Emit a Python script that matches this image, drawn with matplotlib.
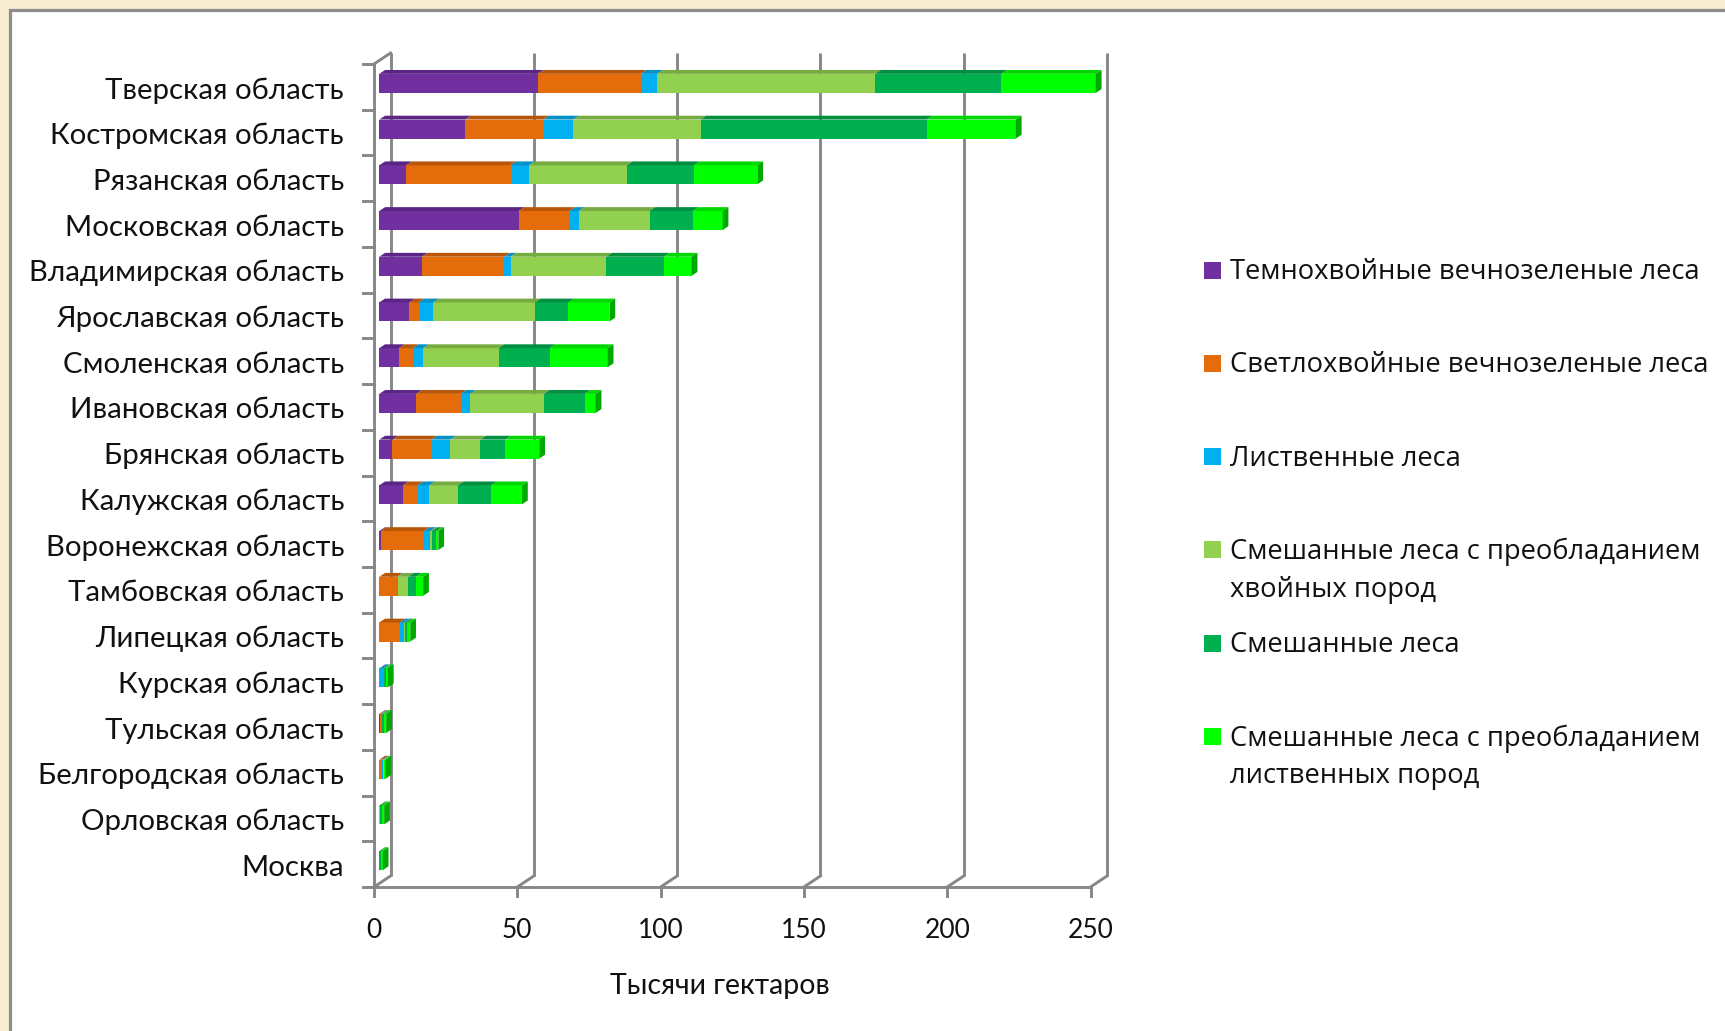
import numpy as np
import matplotlib
matplotlib.use("Agg")
import matplotlib.pyplot as plt
from matplotlib.patches import Polygon, Rectangle
import matplotlib.transforms as mtransforms

# ---- data (thousand hectares) ----
regions = ["Тверская область", "Костромская область", "Рязанская область",
           "Московская область", "Владимирская область", "Ярославская область",
           "Смоленская область", "Ивановская область", "Брянская область",
           "Калужская область", "Воронежская область", "Тамбовская область",
           "Липецкая область", "Курская область", "Тульская область",
           "Белгородская область", "Орловская область", "Москва"]

dark_conifer    = [55.3, 30.0,  9.4, 48.6, 14.9, 10.5,  6.9, 12.9,  4.6,  8.3, 0.6, 0.0, 0.0, 0.0, 0.3, 0.0, 0.0, 0.0]
light_conifer   = [36.0, 27.2, 36.4, 17.8, 28.7,  3.2,  4.8, 15.5, 13.6,  5.1, 15.1, 6.2, 7.2, 0.2, 0.4, 1.1, 0.0, 0.0]
deciduous       = [ 5.7, 10.4,  6.4,  3.2,  2.2,  5.2,  3.6,  3.3,  6.5,  4.1, 2.1, 0.3, 1.5, 1.3, 0.2, 0.3, 0.0, 0.0]
mixed_conifer   = [76.0, 44.5, 34.2, 24.7, 33.4, 35.4, 26.3, 25.7, 10.5, 10.0, 0.6, 3.6, 0.2, 0.2, 0.2, 0.1, 0.2, 0.0]
mixed           = [44.1, 78.9, 23.5, 15.1, 20.1, 11.7, 17.8, 14.3,  8.7, 11.6, 1.4, 2.6, 0.9, 0.5, 0.5, 0.3, 0.6, 0.5]
mixed_deciduous = [32.9, 31.1, 22.0, 10.4,  9.7, 14.3, 20.3,  3.8, 11.9, 10.7, 0.8, 2.6, 1.0, 0.8, 0.8, 0.4, 0.9, 0.7]

series_labels = ["Темнохвойные вечнозеленые леса",
                 "Светлохвойные вечнозеленые леса",
                 "Лиственные леса",
                 "Смешанные леса с преобладанием\nхвойных пород",
                 "Смешанные леса",
                 "Смешанные леса с преобладанием\nлиственных пород"]

x_ticks = [0, 50, 100, 150, 200, 250]
x_title = "Тысячи гектаров"

series = [dark_conifer, light_conifer, deciduous, mixed_conifer, mixed, mixed_deciduous]
front_colors = ["#7030A0", "#E46C0A", "#00B0F0", "#92D050", "#00B050", "#00FF00"]
top_colors   = ["#5A2585", "#B85608", "#0090C6", "#76AB40", "#008E40", "#00D600"]
side_colors  = ["#4A1E6E", "#9A4806", "#0078A6", "#629036", "#007634", "#00A800"]

# ---- figure geometry (pixels) ----
W, H = 1725, 1031
fig = plt.figure(figsize=(W / 100, H / 100), dpi=100)
fig.patch.set_facecolor("#F7ECD2")

# white chart panel with grey frame
fig.add_artist(Rectangle((10 / W, -0.02), 1.05, 1 - 10 / H + 0.02,
                         transform=fig.transFigure, facecolor="white",
                         edgecolor="#8C8C8C", linewidth=2.3, zorder=0))

ax_left, ax_right, ax_top, ax_bottom = 374, 1090.5, 64, 887
ax = fig.add_axes([ax_left / W, 1 - ax_bottom / H,
                   (ax_right - ax_left) / W, (ax_bottom - ax_top) / H])
n = len(regions)
ax.set_xlim(0, 250)
ax.set_ylim(n, 0)
ax.axis("off")

# pixel -> data conversion factors
ux = 250 / (ax_right - ax_left)
uy = n / (ax_bottom - ax_top)
DX, DY = 16.5, 11.0            # depth of the 3-D box (px, right / up)
depth = (DX * ux, -DY * uy)     # same in data units

grid_c = "#878787"
glw = 2.1
text_c = "#111111"

# back-wall gridlines
for v in x_ticks:
    ax.plot([v + depth[0]] * 2, [depth[1], n + depth[1]], color=grid_c,
            lw=glw, clip_on=False, zorder=1, solid_capstyle="butt")
    # floor diagonals
    ax.plot([v, v + depth[0]], [n, n + depth[1]], color=grid_c, lw=glw,
            clip_on=False, zorder=1)
    # tick marks under the front axis
    ax.plot([v, v], [n, n + 9 * uy], color=grid_c, lw=glw, clip_on=False, zorder=1)
    ax.text(v, n + 43 * uy, str(v), ha="center", va="center",
            fontsize=19, family="Lato", color=text_c)

# front axes
ax.plot([0, 0], [0, n], color=grid_c, lw=glw, clip_on=False, zorder=1)
ax.plot([0, depth[0]], [0, depth[1]], color=grid_c, lw=glw, clip_on=False, zorder=1)
ax.plot([0, 250], [n, n], color=grid_c, lw=glw, clip_on=False, zorder=1)
for k in range(n + 1):
    ax.plot([-11 * ux, 0], [k, k], color=grid_c, lw=glw, clip_on=False, zorder=1)

# category labels
for k, name in enumerate(regions):
    ax.text(-30 * ux, k + 0.5 + 3.5 * uy, name, ha="right", va="center",
            fontsize=21.2, family="Lato", color=text_c)

# ---- 3-D stacked bars ----
d1, d2 = 0.32, 0.67            # bar front / back position inside the box depth
front_tr = mtransforms.offset_copy(ax.transData, fig=fig, x=DX * d1, y=DY * d1, units="dots")
bdx, bdy = depth[0] * (d2 - d1), depth[1] * (d2 - d1)
bar_h = 0.416
centers = np.arange(n) + 0.5
data = np.array(series, dtype=float)
lefts = np.vstack([np.zeros(n), np.cumsum(data, axis=0)[:-1]])

for s in range(len(series)):
    ax.barh(centers, data[s], left=lefts[s], height=bar_h, color=front_colors[s],
            transform=front_tr, clip_on=False, zorder=3, linewidth=0)
    for k in range(n):
        w = data[s, k]
        if w <= 0:
            continue
        l = lefts[s, k]
        yt = centers[k] - bar_h / 2
        ax.add_patch(Polygon([(l, yt), (l + w, yt), (l + w + bdx, yt + bdy), (l + bdx, yt + bdy)],
                             closed=True, facecolor=top_colors[s], edgecolor="none",
                             transform=front_tr, clip_on=False, zorder=3))

# right end caps
totals = data.sum(axis=0)
for k in range(n):
    last = max(i for i in range(len(series)) if data[i, k] > 0)
    R = totals[k]
    yt, yb = centers[k] - bar_h / 2, centers[k] + bar_h / 2
    ax.add_patch(Polygon([(R, yt), (R, yb), (R + bdx, yb + bdy), (R + bdx, yt + bdy)],
                         closed=True, facecolor=side_colors[last], edgecolor="none",
                         transform=front_tr, clip_on=False, zorder=3))

# axis title
fig.text(720 / W, 1 - 986 / H, x_title, ha="center", va="center",
         fontsize=20.5, family="Lato", color=text_c)

# ---- legend ----
leg_y0, leg_step, line_step = 272, 93.3, 38
for i, lab in enumerate(series_labels):
    yc = leg_y0 + i * leg_step
    fig.add_artist(Rectangle((1204 / W, 1 - (yc + 6.5) / H), 17 / W, 17 / H,
                             transform=fig.transFigure, facecolor=front_colors[i],
                             edgecolor="none"))
    for j, line in enumerate(lab.split("\n")):
        fig.text(1230 / W, 1 - (yc + j * line_step) / H, line, ha="left", va="center",
                 fontsize=19.7, family="Open Sans", color=text_c)

fig.savefig("out.png", dpi=100, facecolor=fig.get_facecolor())
